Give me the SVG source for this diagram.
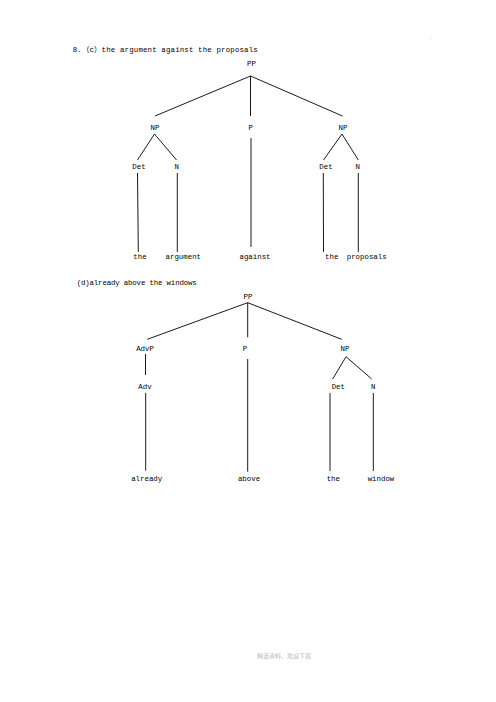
<svg xmlns="http://www.w3.org/2000/svg" width="496" height="702" viewBox="0 0 496 702">
<style>
text{font-family:"Liberation Mono","Noto Sans CJK SC",monospace;font-size:7.4px;fill:#000}
.c{text-anchor:middle}
.foot{font-family:"Noto Sans CJK SC",sans-serif;font-size:6px;fill:#b8b8b8;text-anchor:middle}
line{stroke:#000;stroke-width:0.9}
</style>
<rect width="496" height="702" fill="#fff"/>
<text x="430" y="39" style="fill:#bbb;font-size:5px">.</text>
<g id="titles">
<text x="72.7" y="51.5" textLength="185" lengthAdjust="spacing">8.（c）the argument against the proposals</text>
<text x="76.7" y="285.3" textLength="120" lengthAdjust="spacing">(d)already above the windows</text>
</g>
<g id="connectors">
<line x1="250.5" y1="76" x2="155" y2="116"/>
<line x1="250.5" y1="76" x2="250.5" y2="116"/>
<line x1="250.5" y1="76" x2="342.5" y2="116"/>
<line x1="154.5" y1="134" x2="137.5" y2="160"/>
<line x1="154.5" y1="134" x2="176.5" y2="160"/>
<line x1="342" y1="134" x2="323.5" y2="160"/>
<line x1="342" y1="134" x2="358.3" y2="160"/>
<line x1="137.5" y1="173" x2="138.3" y2="252"/>
<line x1="177.3" y1="173" x2="177.3" y2="252"/>
<line x1="251" y1="138" x2="251" y2="247"/>
<line x1="323.3" y1="173" x2="323.5" y2="252"/>
<line x1="358.3" y1="173" x2="358.3" y2="252"/>
<line x1="247.7" y1="302.7" x2="147.3" y2="339.3"/>
<line x1="247.7" y1="302.7" x2="247.7" y2="337.3"/>
<line x1="247.7" y1="302.7" x2="341.7" y2="339.3"/>
<line x1="145.5" y1="354" x2="145.5" y2="375"/>
<line x1="247.7" y1="359" x2="247.7" y2="471.7"/>
<line x1="346" y1="356.7" x2="332.7" y2="379"/>
<line x1="346" y1="356.7" x2="371.7" y2="379"/>
<line x1="145.7" y1="393" x2="145.7" y2="470.7"/>
<line x1="330" y1="393" x2="330" y2="471"/>
<line x1="373.3" y1="393" x2="373.3" y2="471"/>
</g>
<g id="tree1">
<g id="c-PP"><text class="c" x="251.5" y="65.8">PP</text></g>
<g id="c-NP1"><text class="c" x="155" y="129.5">NP</text></g>
<g id="c-P"><text class="c" x="250.7" y="129.5">P</text></g>
<g id="c-NP2"><text class="c" x="343" y="129.5">NP</text></g>
<g id="c-Det1"><text class="c" x="139" y="168.5">Det</text></g>
<g id="c-N1"><text class="c" x="176.7" y="168.5">N</text></g>
<g id="c-Det2"><text class="c" x="326" y="168.5">Det</text></g>
<g id="c-N2"><text class="c" x="357.7" y="168.5">N</text></g>
<g id="c-the1"><text class="c" x="140" y="259.3">the</text></g>
<g id="c-argument"><text class="c" x="183.3" y="259.3">argument</text></g>
<g id="c-against"><text class="c" x="255" y="259.3">against</text></g>
<g id="c-the2"><text class="c" x="331.7" y="259.3">the</text></g>
<g id="c-proposals"><text class="c" x="366.7" y="259.3">proposals</text></g>
</g>
<g id="tree2">
<g id="d-PP"><text class="c" x="248" y="298.5">PP</text></g>
<g id="d-AdvP"><text class="c" x="145" y="350.8">AdvP</text></g>
<g id="d-P"><text class="c" x="245" y="350.8">P</text></g>
<g id="d-NP"><text class="c" x="345" y="350.8">NP</text></g>
<g id="d-Adv"><text class="c" x="145" y="389">Adv</text></g>
<g id="d-Det"><text class="c" x="338.3" y="388.8">Det</text></g>
<g id="d-N"><text class="c" x="373.3" y="388.8">N</text></g>
<g id="d-already"><text class="c" x="146.7" y="480.8">already</text></g>
<g id="d-above"><text class="c" x="249" y="480.8">above</text></g>
<g id="d-the"><text class="c" x="333.3" y="480.8">the</text></g>
<g id="d-window"><text class="c" x="381" y="480.8">window</text></g>
</g>
<text class="foot" x="284" y="658">精选资料，欢迎下载</text>
</svg>
